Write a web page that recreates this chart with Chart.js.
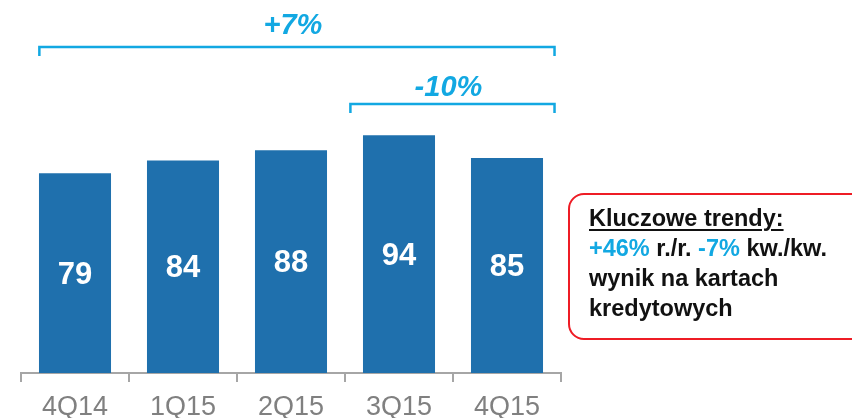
<!DOCTYPE html>
<html>
<head>
<meta charset="utf-8">
<script src="https://cdn.jsdelivr.net/npm/chart.js@4"></script>
<style>
  html, body { margin: 0; padding: 0; background: #fff; overflow: hidden; }
  #wrap { position: relative; width: 852px; height: 418px; }
  #chart { position: absolute; left: 0; top: 0; }
  .note {
    position: absolute; left: 568px; top: 193px; width: 310px; height: 135px;
    border: 2px solid #ee1c25; border-radius: 16px; box-sizing: content-box;
    padding: 8px 0 0 19px;
    font: bold 23.5px 'Liberation Sans', Arial, sans-serif; line-height: 30px; color: #111;
  }
  .note u { text-decoration-thickness: 2px; text-underline-offset: 3px; }
  .note .hl { color: #12a8e2; }
</style>
</head>
<body>
<div id="wrap">
  <canvas id="chart" width="852" height="418"></canvas>
  <div class="note">
    <u>Kluczowe trendy:</u><br>
    <span class="hl">+46%</span> r./r. <span class="hl">-7%</span> kw./kw.<br>
    wynik na kartach<br>
    kredytowych
  </div>
</div>
<script>
/* ── Data ── */
const quarters = ['4Q14', '1Q15', '2Q15', '3Q15', '4Q15'];
const results  = [79, 84, 88, 94, 85];

// change brackets: label, first and last quarter covered
const changeLabels = ['+7%', '-10%'];
const changeFrom   = [0, 3];
const changeTo     = [4, 4];

const FONT = "'Liberation Sans', Arial, sans-serif";
const BAR  = '#1f70ad';
const CYAN = '#12a8e2';
const AXIS = '#a6a6a6';

/* ── Value labels inside bars ── */
const valueLabels = {
  id: 'valueLabels',
  afterDatasetsDraw(chart) {
    const ctx = chart.ctx;
    const meta = chart.getDatasetMeta(0);
    ctx.save();
    ctx.fillStyle = '#fff';
    ctx.font = 'bold 31px ' + FONT;
    ctx.textAlign = 'center';
    ctx.textBaseline = 'middle';
    meta.data.forEach((bar, i) => {
      ctx.fillText(String(results[i]), bar.x, (bar.y + bar.base) / 2 + 2);
    });
    ctx.restore();
  }
};

/* ── Change brackets above bars ── */
const brackets = {
  id: 'brackets',
  afterDraw(chart) {
    const ctx = chart.ctx;
    const x = chart.scales.x;
    const cat = x.getPixelForValue(1) - x.getPixelForValue(0);
    const levels = [47, 104];        // bracket line y
    const textY  = [26, 88];         // label centre y
    const padL   = [0.33, 0.45];     // left overhang (fraction of category)
    const padR   = [0.44, 0.44];
    ctx.save();
    ctx.strokeStyle = CYAN;
    ctx.fillStyle = CYAN;
    ctx.lineWidth = 2.5;
    ctx.font = 'italic bold 29px ' + FONT;
    ctx.textAlign = 'center';
    ctx.textBaseline = 'middle';
    changeLabels.forEach((lbl, i) => {
      const l = x.getPixelForValue(changeFrom[i]) - padL[i] * cat;
      const r = x.getPixelForValue(changeTo[i]) + padR[i] * cat;
      const y = levels[i];
      ctx.beginPath();
      ctx.moveTo(l, y + 9);
      ctx.lineTo(l, y);
      ctx.lineTo(r, y);
      ctx.lineTo(r, y + 9);
      ctx.stroke();
      ctx.fillText(lbl, (l + r) / 2 - 4, textY[i]);
    });
    ctx.restore();
  }
};

new Chart(document.getElementById('chart'), {
  type: 'bar',
  data: {
    labels: quarters,
    datasets: [{
      data: results,
      backgroundColor: BAR,
      borderWidth: 0,
      barPercentage: 1,
      categoryPercentage: 0.667
    }]
  },
  options: {
    responsive: false,
    animation: false,
    layout: { padding: { left: 21, right: 291, top: 120, bottom: 0 } },
    plugins: { legend: { display: false }, tooltip: { enabled: false } },
    scales: {
      x: {
        border: { display: true, color: AXIS, width: 2 },
        grid: { display: true, drawOnChartArea: false, tickLength: 9, color: AXIS, lineWidth: 2, offset: true },
        ticks: { color: '#808080', font: { family: FONT, size: 27 }, padding: 9 },
        afterFit: s => { s.height = 45; }
      },
      y: { display: false, min: 0, max: 100 }
    }
  },
  plugins: [valueLabels, brackets]
});
</script>
</body>
</html>
